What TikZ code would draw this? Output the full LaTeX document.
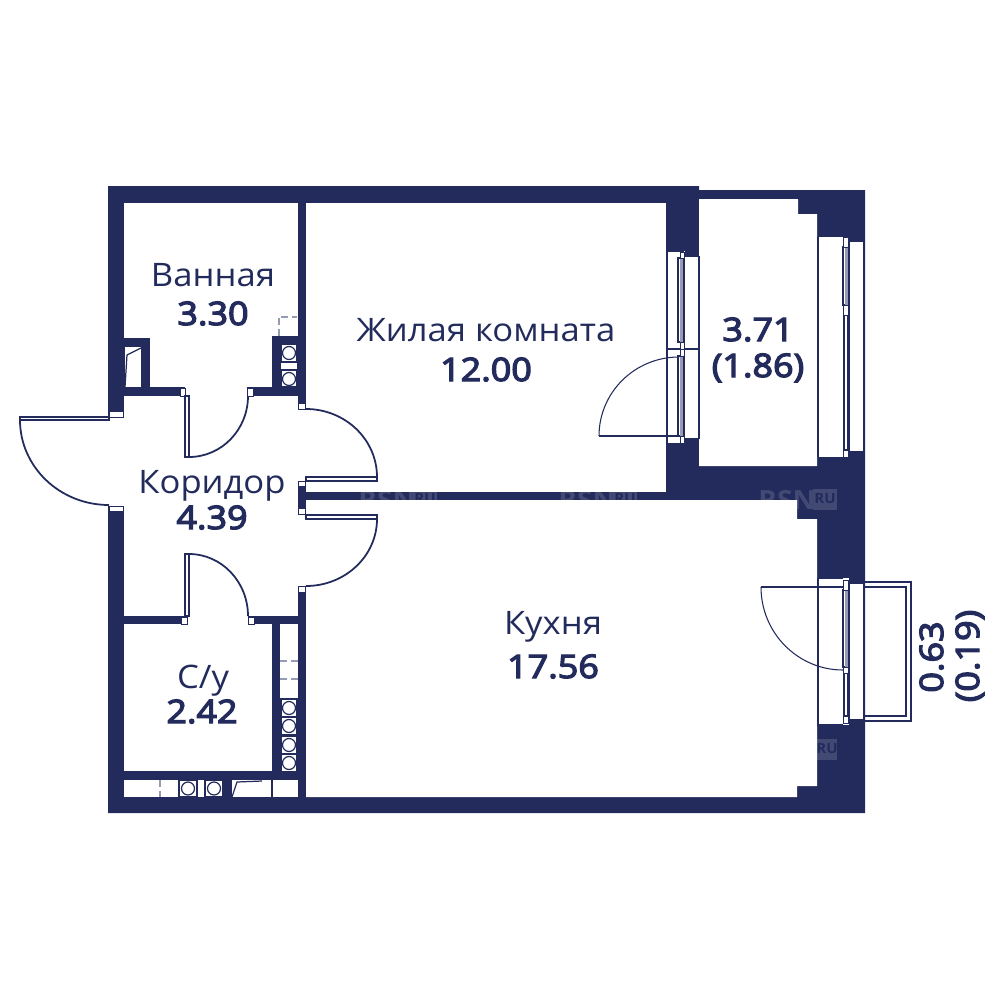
\documentclass[tikz,border=0pt]{standalone}
\usepackage{fontspec}
\setmainfont{Open Sans}[FakeStretch=1.07]
\newfontfamily\semifont{Open Sans}[FakeStretch=1.11,FakeBold=4]
\usepackage{tikz}
\definecolor{navy}{RGB}{34,43,92}
\definecolor{glass}{RGB}{150,155,180}
\tikzstyle{wall}=[fill=navy]
\tikzstyle{room}=[fill=white]
\tikzstyle{thinline}=[draw=navy,line width=0.35pt]
\tikzstyle{jamb}=[draw=navy,line width=0.25pt,fill=white]
\tikzstyle{leaf}=[draw=navy,line width=0.3pt,fill=white]
\tikzstyle{swing}=[draw=navy,line width=0.5pt]
\tikzstyle{balcswing}=[draw=navy,line width=0.3pt]
\tikzstyle{ghost}=[draw=glass,line width=0.35pt,dash pattern=on 2pt off 1pt]
\tikzstyle{pane}=[draw=navy,line width=0.3pt,fill=white]
\tikzstyle{glazing}=[fill=glass]
\tikzstyle{roomname}=[text=navy,anchor=base,inner sep=0pt,font=\fontsize{9.2pt}{11pt}\selectfont]
\tikzstyle{roomarea}=[text=navy,anchor=base,inner sep=0pt,font=\fontsize{9.2pt}{11pt}\semifont]
\tikzstyle{stamp}=[text=white,opacity=0.15,anchor=base,inner sep=0pt,font=\fontsize{7.5pt}{8pt}\selectfont\bfseries]
\tikzstyle{stampbox}=[text=navy,anchor=base,inner sep=0pt,font=\fontsize{4pt}{5pt}\selectfont\bfseries]
\begin{document}
\begin{tikzpicture}[x=0.01cm,y=-0.01cm]
\useasboundingbox (0,0) rectangle (1000,1000);

% walls
\fill[wall] (108,186) -- (699,186) -- (699,190) -- (865,190) -- (865,813) -- (108,813) -- cycle;

% stamps on the walls
\foreach \sx in {387,587,787} {
  \node[stamp] at (\sx,509) {RSN};
  \fill[white,opacity=0.15] (\sx+26,489) rectangle (\sx+50,510);
  \node[stampbox] at (\sx+38,503) {RU};
}
\fill[white,opacity=0.15] (817,739) rectangle (837,760);
\node[stampbox] (stampru) at (827,753) {RU};

% rooms
\fill[room] (124,203) rectangle (298,387);
\fill[room] (306,203) rectangle (666,492);
\fill[room] (699,199) -- (798,199) -- (798,214) -- (817,214) -- (817,466) -- (699,466) -- cycle;
\fill[room] (306,500) -- (797,500) -- (797,519) -- (817,519) -- (817,786) -- (797,786) -- (797,797) -- (306,797) -- cycle;
\fill[room] (124,624) rectangle (272,771);
\fill[room] (124,396) rectangle (298,616);
\fill[room] (108,417) rectangle (124,506);
\fill[room] (298,409) rectangle (306,481);
\fill[room] (298,514) rectangle (306,586);
\fill[room] (185,387) rectangle (247,396);
\fill[room] (187,616) rectangle (248,624);

% bath shafts
\fill[wall] (124,338) rectangle (150,387);
\fill[room] (125,347) rectangle (141,387);
\draw[thinline] (125,387) -- (127,355) -- (141,348);
\fill[wall] (272,336) rectangle (298,387);
\fill[room] (281,344) rectangle (297,387);
\draw[thinline] (281,344) rectangle (297,362);
\draw[thinline] (281,370) rectangle (297,387);
\draw[thinline] (289,353) circle (6.5);
\draw[thinline] (289,379) circle (6.5);
\draw[ghost] (279,336) -- (279,317) -- (297,317);

% wc shaft
\fill[wall] (272,624) rectangle (280,771);
\fill[room] (280,624) rectangle (298,771);
\draw[ghost] (280,661) -- (298,661);
\draw[ghost] (280,679) -- (298,679);
\foreach \cy in {708,726,745,763} {
  \draw[thinline] (281,\cy-9) rectangle (297,\cy+9);
  \draw[thinline] (289,\cy) circle (6.5);
}

% bottom strip
\fill[room] (124,780) rectangle (222,797);
\fill[room] (232,780) rectangle (298,797);
\draw[ghost] (160,780) -- (160,797);
\foreach \cx in {188,214} {
  \draw[thinline] (\cx-9,780) rectangle (\cx+9,797);
  \draw[thinline] (\cx,788.5) circle (6.5);
}
\draw[thinline] (232,797) -- (237,782) -- (262,781);
\draw[thinline] (272,780) -- (272,797);

% jambs
\draw[jamb] (109,411) rectangle (123,417);
\draw[jamb] (109,506) rectangle (123,511);
\draw[jamb] (180,388) rectangle (185,396);
\draw[jamb] (247,388) rectangle (253,396);
\draw[jamb] (181,617) rectangle (187,624);
\draw[jamb] (248,617) rectangle (254,624);
\draw[jamb] (298,403) rectangle (305,409);
\draw[jamb] (298,481) rectangle (305,486);
\draw[jamb] (298,508) rectangle (305,514);
\draw[jamb] (298,586) rectangle (305,592);

% doors
\draw[leaf] (20,417) rectangle (109,420);
\draw[swing] (20,420) arc[start angle=180,end angle=90,x radius=89,y radius=85];
\draw[leaf] (185,396) rectangle (189,457);
\draw[swing] (189,457) arc[start angle=90,end angle=0,x radius=59,y radius=61];
\draw[leaf] (185,554) rectangle (189,616);
\draw[swing] (189,554) arc[start angle=270,end angle=360,x radius=59,y radius=62];
\draw[leaf] (306,477) rectangle (377,481);
\draw[swing] (306,409) arc[start angle=270,end angle=360,x radius=71,y radius=68];
\draw[leaf] (306,515) rectangle (377,519);
\draw[swing] (377,519) arc[start angle=0,end angle=90,x radius=71,y radius=67];

% living room window
\fill[room] (667,251) rectangle (685,444);
\fill[room] (685,256) rectangle (699,439);
\draw[thinline] (667,251) -- (684,251);
\draw[thinline] (667,444) -- (684,444);
\draw[thinline] (667,251) -- (667,444);
\draw[thinline] (699,256) -- (699,439);
\draw[thinline] (685,256) -- (699,256);
\draw[thinline] (685,439) -- (699,439);
\draw[thinline] (667,349) -- (699,349);
\draw[pane] (678,258) rectangle (684,342);
\fill[glazing] (680,258) rectangle (682.5,342);
\draw[pane] (678,356) rectangle (684,436);
\fill[glazing] (680,356) rectangle (682.5,436);
\draw[jamb] (680,252) rectangle (684,258);
\draw[jamb] (680,342) rectangle (684,349);
\draw[jamb] (680,349) rectangle (684,356);
\draw[jamb] (680,436) rectangle (684,443);
\draw[balcswing] (678,436) -- (599,436);
\draw[balcswing] (599,436) arc[start angle=180,end angle=270,x radius=80,y radius=79];

% loggia window
\fill[room] (818,237) rectangle (849,457);
\fill[room] (849,241) rectangle (864,452);
\draw[thinline] (818,237) -- (818,457);
\draw[thinline] (849,241) rectangle (864,452);
\draw[pane] (843,247) rectangle (849,305);
\fill[glazing] (845,247) rectangle (847.5,305);
\draw[leaf] (844,315) rectangle (848,450);
\draw[jamb] (843,237) rectangle (848,247);
\draw[jamb] (843,305) rectangle (848,315);
\draw[jamb] (843,450) rectangle (848,457);

% kitchen window and balcony
\fill[room] (818,578) rectangle (849,725);
\fill[room] (849,583) rectangle (864,720);
\draw[thinline] (818,578) -- (818,725) -- (843,725);
\draw[thinline] (818,578) -- (843,578);
\draw[thinline] (849,583) rectangle (864,720);
\draw[pane] (843,590) rectangle (849,667);
\fill[glazing] (845,590) rectangle (847.5,667);
\draw[leaf] (844,673) rectangle (848,716);
\draw[jamb] (843,580) rectangle (848,590);
\draw[jamb] (843,667) rectangle (848,673);
\draw[jamb] (843,716) rectangle (848,723);
\draw[balcswing] (843,587) -- (761,587);
\draw[balcswing] (761,587) arc[start angle=180,end angle=90,x radius=82,y radius=83];
\draw[thinline] (865,582) -- (911,582) -- (911,721) -- (865,721);
\draw[thinline] (865,587) -- (906,587) -- (906,716) -- (865,716);
\draw[draw=navy,line width=0.6pt] (864,582) -- (864,721);

% labels
\node[roomname] (bath) at (213,286) {Ванная};
\node[roomarea] (batharea) at (213,325) {3.30};
\node[roomname] (living) at (486,341) {Жилая комната};
\node[roomarea] (livingarea) at (486,381) {12.00};
\node[roomname] (hall) at (212,493) {Коридор};
\node[roomarea] (hallarea) at (212,529) {4.39};
\node[roomname] (kitchen) at (553,634) {Кухня};
\node[roomarea] (kitchenarea) at (553,678) {17.56};
\node[roomname] (wc) at (203,688) {С/у};
\node[roomarea] (wcarea) at (202,723) {2.42};
\node[roomarea] (loggia) at (758,341) {3.71};
\node[roomarea] (loggiahalf) at (758,377) {(1.86)};
\node[roomarea,rotate=90] (balcony) at (943,657) {0.63};
\node[roomarea,rotate=90] (balconyhalf) at (979,656) {(0.19)};
\end{tikzpicture}
\end{document}
